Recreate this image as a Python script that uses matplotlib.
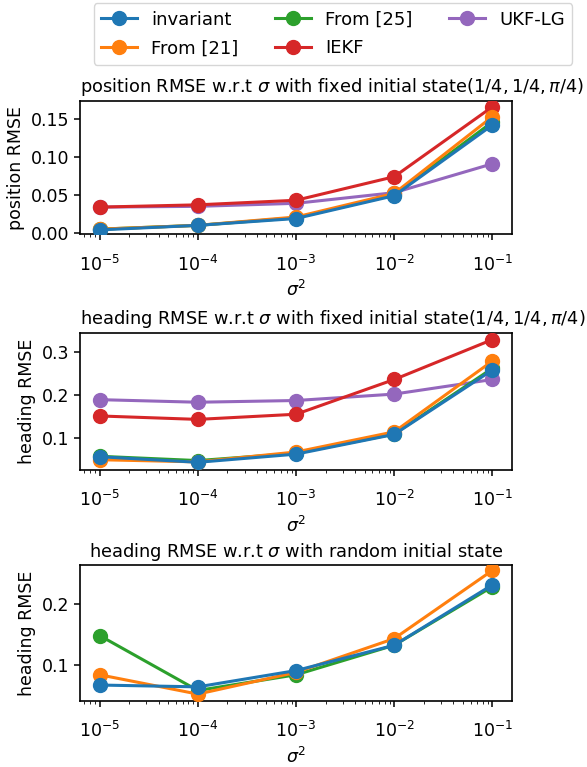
import matplotlib
matplotlib.use("Agg")
import matplotlib.pyplot as plt
import numpy as np

sigma2 = [1e-5, 1e-4, 1e-3, 1e-2, 1e-1]
labels = ["invariant", "From [21]", "From [25]", "IEKF", "UKF-LG"]
colors = ["#1f77b4", "#ff7f0e", "#2ca02c", "#d62728", "#9467bd"]

# position RMSE, fixed initial state
pos_invariant = [0.004, 0.010, 0.019, 0.049, 0.142]
pos_from21 = [0.005, 0.010, 0.021, 0.052, 0.153]
pos_from25 = [0.005, 0.010, 0.020, 0.050, 0.146]
pos_iekf = [0.034, 0.037, 0.043, 0.074, 0.166]
pos_ukflg = [0.034, 0.035, 0.039, 0.053, 0.091]

# heading RMSE, fixed initial state
head_invariant = [0.057, 0.044, 0.063, 0.109, 0.259]
head_from21 = [0.050, 0.045, 0.068, 0.115, 0.280]
head_from25 = [0.058, 0.048, 0.065, 0.110, 0.263]
head_iekf = [0.152, 0.144, 0.156, 0.237, 0.330]
head_ukflg = [0.190, 0.184, 0.188, 0.203, 0.237]

# heading RMSE, random initial state
rand_invariant = [0.066, 0.063, 0.090, 0.132, 0.232]
rand_from21 = [0.083, 0.051, 0.087, 0.143, 0.256]
rand_from25 = [0.148, 0.057, 0.083, 0.132, 0.229]

plt.rcParams['font.size'] = 12.5
plt.rcParams['axes.linewidth'] = 1.2
plt.rcParams['xtick.major.width'] = 1.1
plt.rcParams['ytick.major.width'] = 1.1
plt.rcParams['xtick.major.size'] = 4.5
plt.rcParams['ytick.major.size'] = 4.5
plt.rcParams['xtick.major.pad'] = 10
plt.rcParams['xtick.minor.pad'] = 10

fig = plt.figure(figsize=(5.87, 7.67), dpi=100)
rects = [[0.1363, 0.6943, 0.736, 0.1744],
         [0.1363, 0.3872, 0.736, 0.1790],
         [0.1363, 0.0864, 0.736, 0.1770]]
axes = [fig.add_axes(r) for r in rects]

series = [
    [pos_invariant, pos_from21, pos_from25, pos_iekf, pos_ukflg],
    [head_invariant, head_from21, head_from25, head_iekf, head_ukflg],
    [rand_invariant, rand_from21, rand_from25],
]
titles = [r"position RMSE w.r.t $\sigma$ with fixed initial state$(1/4, 1/4, \pi/4)$",
          r"heading RMSE w.r.t $\sigma$ with fixed initial state$(1/4, 1/4, \pi/4)$",
          r"heading RMSE w.r.t $\sigma$ with random initial state"]
title_locs = ['left', 'left', 'center']
ylabels = ["position RMSE", "heading RMSE", "heading RMSE"]
zorders = [6, 5, 4, 3, 2]

handles = None
for ax, ser, title, tl, yl in zip(axes, series, titles, title_locs, ylabels):
    hs = []
    for i, ys in enumerate(ser):
        h, = ax.plot(sigma2, ys, '-o', color=colors[i], markersize=10,
                     linewidth=2.2, label=labels[i], zorder=zorders[i])
        hs.append(h)
    if handles is None:
        handles = hs
    ax.set_xscale('log')
    ax.set_title(title, fontsize=12.8, loc=tl)
    ax.set_ylabel(yl)
    ax.set_xlabel(r"$\sigma^2$")

axes[0].set_ylim(-0.002, 0.174)
axes[0].set_yticks([0.0, 0.05, 0.10, 0.15])
axes[1].set_ylim(0.026, 0.346)
axes[1].set_yticks([0.1, 0.2, 0.3])
axes[2].set_ylim(0.040, 0.265)
axes[2].set_yticks([0.1, 0.2])

fig.legend(handles, labels, loc='upper center', bbox_to_anchor=(0.567, 0.998),
           ncol=3, fontsize=13, borderaxespad=0.1, labelspacing=0.6)

fig.savefig("out.png", dpi=100)
